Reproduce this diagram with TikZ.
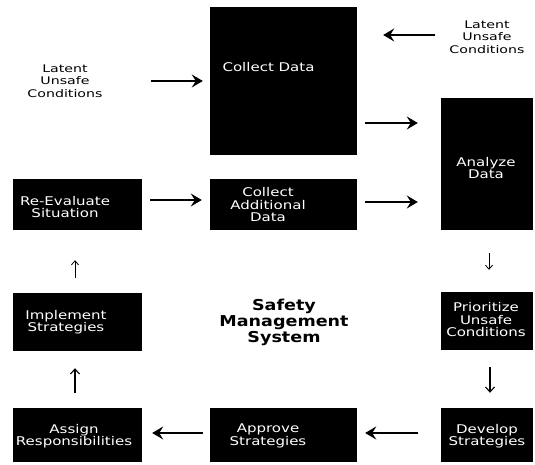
\documentclass[tikz,border=0pt]{standalone}
\usepackage{fontspec}
\newfontfamily\boxfont[FakeStretch=1.25]{DejaVu Sans}
\newfontfamily\latentfont[FakeStretch=1.35]{DejaVu Sans}
\newfontfamily\titlefont[FakeStretch=1.17]{DejaVu Sans}
\usetikzlibrary{arrows.meta}
\begin{document}
\begin{tikzpicture}[x=1pt,y=1pt,
    box/.style={fill=black,draw=none,inner sep=0pt},
    boxtext/.style={text=white,align=center,inner sep=0pt,font=\boxfont\fontsize{12}{12.5}\selectfont},
    latent/.style={align=center,inner sep=0pt,font=\latentfont\fontsize{10.5}{12.5}\selectfont},
    bigarrow/.style={line width=1.6pt,-{Stealth[length=11pt,width=13pt,inset=4pt]}},
    midarrow/.style={line width=1.1pt,-{Straight Barb[length=5pt,width=9pt]}},
    smallarrow/.style={line width=0.8pt,-{Straight Barb[length=4pt,width=7pt]}}]
      \useasboundingbox (0,0) rectangle (535,465);
      \node[box,minimum width=147pt,minimum height=148pt] (cd) at (283.5,384) {};
      \node[box,minimum width=147pt,minimum height=51pt] (ce) at (283.5,260.5) {};
      \node[box,minimum width=129pt,minimum height=51pt] (re) at (77.5,260.5) {};
      \node[box,minimum width=92pt,minimum height=132pt] (an) at (487,301) {};
      \node[box,minimum width=92pt,minimum height=58pt] (pr) at (487,144) {};
      \node[box,minimum width=92pt,minimum height=54pt] (dv) at (487,30) {};
      \node[box,minimum width=147pt,minimum height=54pt] (ap) at (283.5,30) {};
      \node[box,minimum width=129pt,minimum height=54pt] (as) at (77.5,30) {};
      \node[box,minimum width=129pt,minimum height=58pt] (im) at (77.5,143) {};
      \node[boxtext] (cdt) at (268.5,398) {Collect Data};
      \node[boxtext] (cet) at (268,260) {Collect\\Additional\\Data};
      \node[boxtext] (ret) at (65,258) {Re-Evaluate\\Situation};
      \node[boxtext] (ant) at (486,297) {Analyze\\Data};
      \node[boxtext] (prt) at (486,145) {Prioritize\\Unsafe\\Conditions};
      \node[boxtext] (dvt) at (487,29) {Develop\\Strategies};
      \node[boxtext] (apt) at (268,29) {Approve\\Strategies};
      \node[boxtext] (ast) at (74,29) {Assign\\Responsibilities};
      \node[boxtext] (imt) at (66,143) {Implement\\Strategies};
      \node[latent] (ll) at (65,384) {Latent\\Unsafe\\Conditions};
      \node[latent] (rl) at (487,428) {Latent\\Unsafe\\Conditions};
      \node[align=center,inner sep=0pt,font=\titlefont\bfseries\fontsize{15}{16}\selectfont] (sms) at (284,143) {Safety\\Management\\System};
      \begin{scope}
        \draw[bigarrow,shorten <=48pt,shorten >=7pt] (ll.east) -- (ll.east -| cd.west);
        \draw[bigarrow,shorten <=14pt,shorten >=26pt] ([yshift=2pt]rl.west) -- ([yshift=2pt]rl.west -| cd.east);
        \draw[bigarrow,shorten <=8pt,shorten >=23pt] ([yshift=-42pt]cd.east) -- ([yshift=-42pt]cd.east -| an.west);
        \draw[bigarrow,shorten <=8pt,shorten >=8pt] ([yshift=4.5pt]re.east) -- ([yshift=4.5pt]ce.west);
        \draw[bigarrow,shorten <=8pt,shorten >=23pt] ([yshift=2.5pt]ce.east) -- ([yshift=2.5pt]ce.east -| an.west);
        \draw[smallarrow,shorten <=23pt,shorten >=22pt] ([xshift=2pt]an.south) -- ([xshift=2pt]pr.north);
        \draw[midarrow,shorten <=17pt,shorten >=15pt] ([xshift=3pt]pr.south) -- ([xshift=3pt]dv.north);
        \draw[bigarrow,shorten <=23pt,shorten >=8pt] ([yshift=2pt]dv.west) -- ([yshift=2pt]ap.east);
        \draw[bigarrow,shorten <=7pt,shorten >=10pt] ([yshift=2pt]ap.west) -- ([yshift=2pt]as.east);
        \draw[midarrow,shorten <=15pt,shorten >=17pt] ([xshift=-2.5pt]as.north) -- ([xshift=-2.5pt]im.south);
        \draw[smallarrow,shorten <=15pt,shorten >=30pt] ([xshift=-2.5pt]im.north) -- ([xshift=-2.5pt]re.south);
      \end{scope}
    \end{tikzpicture}
\end{document}
